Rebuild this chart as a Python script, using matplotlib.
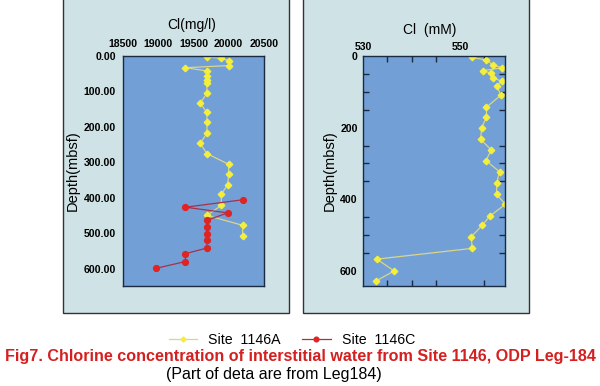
import matplotlib
matplotlib.use('Agg')
import matplotlib.pyplot as plt
from matplotlib.patches import Rectangle
from matplotlib.ticker import MultipleLocator

plt.rcParams['font.family'] = ['Liberation Sans', 'DejaVu Sans']

# Site 1146A, Cl (mg/l) vs depth
a_cl = [19690, 19895, 20000, 20000, 19385, 19690, 19690, 19690, 19690, 19690,
        19595, 19690, 19690, 19690, 19595, 19690, 19998, 19998, 19985, 19895,
        19895, 19690, 20197, 20197]
a_depth = [2, 7, 13, 27, 33, 42, 55, 67, 77, 105,
           133, 159, 187, 218, 246, 275, 305, 333, 363, 389,
           421, 449, 477, 506]

# Site 1146C, Cl (mg/l) vs depth
c_cl = [20201, 19386, 19983, 19690, 19690, 19690, 19690, 19690, 19386, 19386, 18974]
c_depth = [405, 426, 442, 463, 482, 501, 519, 541, 557, 579, 598]

# Cl (mM) vs depth
m_cl = [552.5, 555.4, 556.9, 558.7, 554.7, 556.5, 556.9, 558.7, 557.6, 558.5,
        555.5, 555.5, 554.5, 554.3, 556.5, 555.4, 558.2, 557.6, 557.6, 559.4,
        556.2, 554.6, 552.4, 552.5, 532.8, 536.4, 532.6]
m_depth = [4, 11, 25, 33, 41, 48, 62, 70, 84, 109,
           143, 171, 200, 233, 262, 292, 323, 355, 386, 414,
           447, 473, 504, 537, 567, 600, 628]

W, H = 600, 386
fig = plt.figure(figsize=(6, 3.86), dpi=100)

panel_bg = '#cfe2e5'
ax_bg = '#72a0d6'
yel = '#f4ef3a'
yel_line = '#d9d68a'
red = '#e02424'
red_line = '#a8304c'

# light panels behind each plot
for x0, x1 in [(63, 289), (303, 529)]:
    fig.patches.append(Rectangle((x0 / W, (H - 313) / H), (x1 - x0) / W, 320 / H,
                                 transform=fig.transFigure, facecolor=panel_bg,
                                 edgecolor='#333333', lw=1.0, zorder=-5))

# left plot
ax1 = fig.add_axes([123 / W, (H - 286) / H, 141 / W, 230 / H])
ax1.set_facecolor(ax_bg)
ax1.plot(a_cl, a_depth, color=yel_line, lw=0.9, marker='D', ms=3.3,
         mfc=yel, mec=yel, label='Site  1146A')
ax1.plot(c_cl, c_depth, color=red_line, lw=0.9, marker='o', ms=4.2,
         mfc=red, mec=red, label='Site  1146C')
ax1.set_xlim(18500, 20500)
ax1.set_ylim(648, 0)
ax1.set_xticks([18500, 19000, 19500, 20000, 20500])
ax1.set_yticks([0, 100, 200, 300, 400, 500, 600])
ax1.set_yticklabels(['%.2f' % v for v in [0, 100, 200, 300, 400, 500, 600]])
ax1.xaxis.tick_top()
ax1.tick_params(length=0, labelsize=7.6, pad=5)
for lab in ax1.get_xticklabels() + ax1.get_yticklabels():
    lab.set_fontweight('bold')
ax1.set_ylabel('Depth(mbsf)', fontsize=10.5)
ax1.yaxis.set_label_coords(-0.31, 0.5)
for s in ax1.spines.values():
    s.set_color('#1a2a40')
    s.set_linewidth(1.0)
fig.text(192 / W, 1 - 25 / H, 'Cl(mg/l)', fontsize=10, ha='center', va='center')

# right plot
ax2 = fig.add_axes([363.3 / W, (H - 286) / H, 142 / W, 230 / H])
ax2.set_facecolor(ax_bg)
ax2.plot(m_cl, m_depth, color=yel_line, lw=0.9, marker='D', ms=3.3,
         mfc=yel, mec=yel)
ax2.set_xlim(530, 559.4)
ax2.set_ylim(642, 0)
ax2.set_xticks([530, 550])
ax2.xaxis.set_minor_locator(MultipleLocator(5))
ax2.set_yticks([0, 200, 400, 600])
ax2.yaxis.set_minor_locator(MultipleLocator(50))
ax2.xaxis.tick_top()
ax2.tick_params(which='both', direction='in', top=True, bottom=True,
                left=True, right=True, color='#1a2a40', width=1.0)
ax2.tick_params(which='major', length=0, labelsize=7.6, pad=4)
ax2.tick_params(which='minor', length=4)
ax2.tick_params(axis='x', which='major', pad=3)
for lab in ax2.get_xticklabels() + ax2.get_yticklabels():
    lab.set_fontweight('bold')
ax2.set_ylabel('Depth(mbsf)', fontsize=10.5)
ax2.yaxis.set_label_coords(-0.19, 0.5)
for s in ax2.spines.values():
    s.set_color('#1a2a40')
    s.set_linewidth(1.0)
fig.text(430 / W, 1 - 30 / H, 'Cl  (mM)', fontsize=10, ha='center', va='center')

# legend and captions
h, l = ax1.get_legend_handles_labels()
fig.legend(h, l, ncol=2, loc='center', bbox_to_anchor=(292 / W, 1 - 340 / H),
           frameon=False, fontsize=10.2, handlelength=2.0, markerscale=0.8,
           columnspacing=1.5, handletextpad=0.8)
fig.text(300 / W, 1 - 357 / H,
         'Fig7. Chlorine concentration of interstitial water from Site 1146, ODP Leg-184',
         color='#d42020', fontsize=11.6, fontweight='bold', ha='center', va='center')
fig.text(274 / W, 1 - 374 / H, '(Part of deta are from Leg184)',
         fontsize=11.5, ha='center', va='center')

fig.savefig('out.png', dpi=100, facecolor='white')
